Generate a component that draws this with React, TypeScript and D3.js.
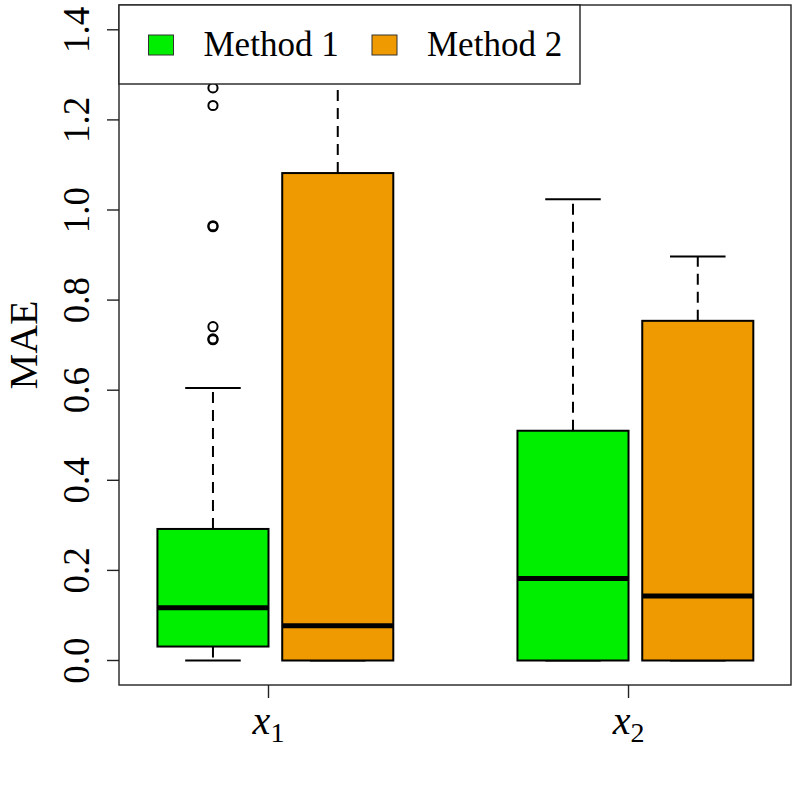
import { useRef, useEffect } from 'react';
import * as d3 from 'd3';

const GROUP_LABELS = ["1", "2"];
const METHODS = ["Method 1", "Method 2"];
const COLORS = ["#00EE00", "#EE9A00"];

// one entry per box: x1/M1, x1/M2, x2/M1, x2/M2
const BOX_GROUP = [0, 0, 1, 1];
const BOX_METHOD = [0, 1, 0, 1];
const WHISKER_LO = [0, 0, 0, 0];
const Q1 = [0.031, 0, 0, 0];
const MEDIAN = [0.117, 0.077, 0.182, 0.143];
const Q3 = [0.292, 1.082, 0.510, 0.754];
const WHISKER_HI = [0.605, 1.40, 1.024, 0.897];
const OUTLIERS = [
  [0.712, 0.714, 0.741, 0.963, 0.965, 1.232, 1.271],
  [],
  [],
  []
];

const Y_TICKS = [0, 0.2, 0.4, 0.6, 0.8, 1.0, 1.2, 1.4];

const FONT = "'Liberation Serif', 'DejaVu Serif', serif";

function App() {
  const svgRef = useRef<SVGSVGElement>(null);

  useEffect(() => {
    const svg = d3.select(svgRef.current);
    svg.selectAll("*").remove();

    const W = 797, H = 797;
    const plot = { left: 119, right: 791, top: 5, bottom: 685 };
    svg.attr("width", W).attr("height", H);

    // group spacing in box units
    const GAP = 2.885;
    const boxW = 0.89;
    const x = d3.scaleLinear().domain([0.247, 5.632]).range([plot.left, plot.right]);
    const y = d3.scaleLinear().domain([0, 1.4]).range([660.5, 29.8]);

    const boxes = BOX_GROUP.map((g, i) => ({
      pos: g * GAP + BOX_METHOD[i] + 1,
      method: BOX_METHOD[i],
      lo: WHISKER_LO[i], q1: Q1[i], med: MEDIAN[i], q3: Q3[i], hi: WHISKER_HI[i],
      out: OUTLIERS[i]
    }));

    svg.append("defs").append("clipPath").attr("id", "plotclip")
      .append("rect")
      .attr("x", plot.left).attr("y", plot.top)
      .attr("width", plot.right - plot.left).attr("height", plot.bottom - plot.top);

    const g = svg.append("g").attr("clip-path", "url(#plotclip)");

    const bg = g.selectAll("g.box").data(boxes).enter().append("g").attr("class", "box");

    // whiskers (dashed)
    bg.append("line")
      .attr("x1", d => x(d.pos)).attr("x2", d => x(d.pos))
      .attr("y1", d => y(d.q3)).attr("y2", d => y(d.hi))
      .attr("stroke", "#000").attr("stroke-width", 2).attr("stroke-dasharray", "11,7");
    bg.append("line")
      .attr("x1", d => x(d.pos)).attr("x2", d => x(d.pos))
      .attr("y1", d => y(d.q1)).attr("y2", d => y(d.lo))
      .attr("stroke", "#000").attr("stroke-width", 2).attr("stroke-dasharray", "11,7");
    // caps
    [(d: any) => d.lo, (d: any) => d.hi].forEach(acc => {
      bg.append("line")
        .attr("x1", d => x(d.pos - boxW / 4)).attr("x2", d => x(d.pos + boxW / 4))
        .attr("y1", d => y(acc(d))).attr("y2", d => y(acc(d)))
        .attr("stroke", "#000").attr("stroke-width", 2);
    });

    // box
    bg.append("rect")
      .attr("x", d => x(d.pos - boxW / 2))
      .attr("width", d => x(d.pos + boxW / 2) - x(d.pos - boxW / 2))
      .attr("y", d => y(d.q3))
      .attr("height", d => y(d.q1) - y(d.q3))
      .attr("fill", d => COLORS[d.method])
      .attr("stroke", "#000").attr("stroke-width", 2);

    // median
    bg.append("line")
      .attr("x1", d => x(d.pos - boxW / 2)).attr("x2", d => x(d.pos + boxW / 2))
      .attr("y1", d => y(d.med)).attr("y2", d => y(d.med))
      .attr("stroke", "#000").attr("stroke-width", 5);

    // outliers
    bg.selectAll("circle")
      .data(d => d.out.map(v => ({ pos: d.pos, v })))
      .enter().append("circle")
      .attr("cx", d => x(d.pos)).attr("cy", d => y(d.v))
      .attr("r", 4.6)
      .attr("fill", "none").attr("stroke", "#000").attr("stroke-width", 2);

    // frame
    svg.append("rect")
      .attr("x", plot.left).attr("y", plot.top)
      .attr("width", plot.right - plot.left).attr("height", plot.bottom - plot.top)
      .attr("fill", "none").attr("stroke", "#222").attr("stroke-width", 1.4);

    // y axis
    const ya = svg.append("g");
    ya.selectAll("line.tick").data(Y_TICKS).enter().append("line")
      .attr("x1", plot.left - 12).attr("x2", plot.left)
      .attr("y1", d => y(d)).attr("y2", d => y(d))
      .attr("stroke", "#222").attr("stroke-width", 1.4);
    ya.selectAll("text").data(Y_TICKS).enter().append("text")
      .attr("transform", d => `translate(89,${y(d)}) rotate(-90)`)
      .attr("text-anchor", "middle")
      .style("font-family", FONT).style("font-size", "37px")
      .text(d => d3.format(".1f")(d));

    svg.append("text")
      .attr("transform", `translate(37,345) rotate(-90)`)
      .attr("text-anchor", "middle")
      .style("font-family", FONT).style("font-size", "40px")
      .text("MAE");

    // x axis
    const ticks = GROUP_LABELS.map((lab, i) => ({ lab, pos: i * GAP + 1.445 }));
    const xa = svg.append("g");
    xa.selectAll("line").data(ticks).enter().append("line")
      .attr("x1", d => x(d.pos)).attr("x2", d => x(d.pos))
      .attr("y1", plot.bottom).attr("y2", plot.bottom + 13)
      .attr("stroke", "#222").attr("stroke-width", 1.4);
    const xt = xa.selectAll("text").data(ticks).enter().append("text")
      .attr("x", d => x(d.pos)).attr("y", 734)
      .attr("text-anchor", "middle")
      .style("font-family", FONT).style("font-size", "40px");
    xt.append("tspan").style("font-style", "italic").text("x");
    xt.append("tspan").attr("dy", 8).style("font-size", "28px").text(d => d.lab);

    // legend
    const leg = svg.append("g");
    leg.append("rect")
      .attr("x", plot.left).attr("y", plot.top)
      .attr("width", 461).attr("height", 79)
      .attr("fill", "#fff").attr("stroke", "#222").attr("stroke-width", 1.4);
    const legX = [148.5, 372];
    METHODS.forEach((m, i) => {
      leg.append("rect")
        .attr("x", legX[i]).attr("y", 35).attr("width", 25).attr("height", 20)
        .attr("fill", COLORS[i]).attr("stroke", "#333").attr("stroke-width", 1);
      leg.append("text")
        .attr("x", legX[i] + 55).attr("y", 56)
        .style("font-family", FONT).style("font-size", "35px")
        .text(m);
    });
  }, []);

  return <svg ref={svgRef} style={{ position: "absolute", left: 0, top: 0 }}></svg>;
}

export default App;
